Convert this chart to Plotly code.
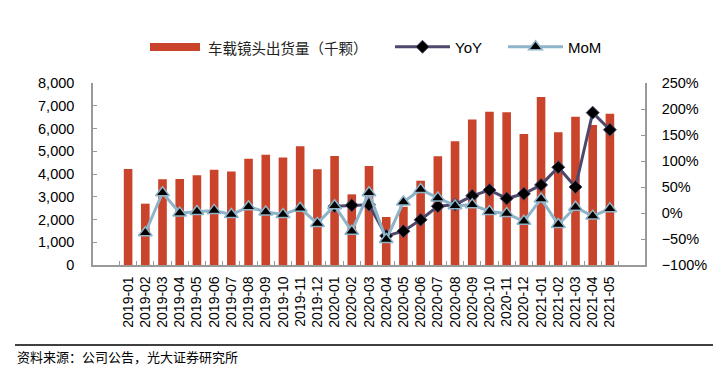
import plotly.graph_objects as go

months = ["2019-01","2019-02","2019-03","2019-04","2019-05","2019-06","2019-07","2019-08","2019-09","2019-10","2019-11","2019-12",
          "2020-01","2020-02","2020-03","2020-04","2020-05","2020-06","2020-07","2020-08","2020-09","2020-10","2020-11","2020-12",
          "2021-01","2021-02","2021-03","2021-04","2021-05"]
shipments = [4220, 2695, 3765, 3780, 3940, 4190, 4115, 4675, 4850, 4720, 5215, 4205,
             4790, 3105, 4350, 2110, 2560, 3705, 4775, 5435, 6400, 6740, 6710, 5760,
             7385, 5830, 6520, 6155, 6650]
yoy = [None]*12 + [13, 15, 16, -44, -35, -13, 13, 16, 33, 44, 28, 37,
                   54, 88, 50, 193, 160]
mom = [None, -38, 39, 0, 3, 5, -3, 12, 2, -3, 9, -20,
       14, -35, 39, -51, 21, 45, 29, 14, 16, 3, -1, -16,
       27, -22, 11, -6, 8]
bar_name = "车载镜头出货量（千颗）"

bar_color = "#C9442A"
yoy_color = "#4E486D"
mom_color = "#8DB4C8"
font_main = "Arial, 'Liberation Sans', sans-serif"
font_cjk = "'Noto Sans CJK SC', sans-serif"

W, H = 725, 367
L, R, T, B = 93, 80, 83, 102
LEG_Y = 1 - 47 / H

fig = go.Figure()
fig.add_trace(go.Bar(x=months, y=shipments, name=bar_name, showlegend=False,
                     marker=dict(color=bar_color, line=dict(width=0)), yaxis="y"))
fig.add_trace(go.Scatter(x=months, y=yoy, name="YoY", mode="lines+markers", yaxis="y2",
                         legend="legend2",
                         line=dict(color=yoy_color, width=3),
                         marker=dict(symbol="diamond", size=10, color="black",
                                     line=dict(color=yoy_color, width=1))))
fig.add_trace(go.Scatter(x=months, y=mom, name="MoM", mode="lines+markers", yaxis="y2",
                         legend="legend3",
                         line=dict(color=mom_color, width=3),
                         marker=dict(symbol="triangle-up", size=12, color="black",
                                     line=dict(color=mom_color, width=1.5))))

leg_common = dict(orientation="h", xanchor="left", xref="container", yref="container",
                  y=LEG_Y, yanchor="middle", itemwidth=55, bgcolor="rgba(0,0,0,0)",
                  font=dict(family=font_main, size=15, color="black"))

fig.update_layout(
    width=W, height=H,
    margin=dict(l=L, r=R, t=T, b=B, autoexpand=False),
    paper_bgcolor="white", plot_bgcolor="white",
    bargap=0.5,
    font=dict(family=font_main, size=14, color="black"),
    showlegend=True,
    legend2=dict(leg_common, x=390 / W),
    legend3=dict(leg_common, x=503 / W),
    xaxis=dict(type="category", tickangle=-90, tickfont=dict(size=14, family=font_main),
               showline=True, linecolor="#999999", linewidth=1.5, automargin=False,
               ticks="inside", ticklen=4, tickcolor="#999999", tickson="boundaries",
               showgrid=False, ticklabelstandoff=4),
    yaxis=dict(range=[0, 8000], dtick=1000, tickformat=",d", showgrid=False,
               showline=True, linecolor="#999999", linewidth=1.5, automargin=False,
               ticks="inside", ticklen=4, tickcolor="#999999", zeroline=False,
               tickfont=dict(size=14.5, family=font_main), ticklabelstandoff=14),
    yaxis2=dict(range=[-100, 250], dtick=50, ticksuffix="%", overlaying="y", side="right",
                showgrid=False, showline=True, linecolor="#999999", linewidth=1.5,
                automargin=False, ticks="inside", ticklen=4, tickcolor="#999999",
                zeroline=False, tickfont=dict(size=14.5, family=font_main),
                ticklabelstandoff=12),
)

# legend entry for the bars (wide patch + label, like the original)
fig.add_shape(type="rect", xref="paper", yref="paper",
              x0=(150 - L) / (W - L - R), x1=(200 - L) / (W - L - R),
              y0=1 + (T - 51) / (H - T - B), y1=1 + (T - 43) / (H - T - B),
              fillcolor=bar_color, line=dict(width=0))
fig.add_annotation(text=bar_name, xref="paper", yref="paper",
                   x=(206 - L) / (W - L - R), y=1 + (T - 47) / (H - T - B),
                   xanchor="left", yanchor="middle", showarrow=False,
                   font=dict(family=font_cjk, size=14.5, color="#222222"))

fig.add_shape(type="line", xref="paper", yref="paper",
              x0=(15 - L) / (W - L - R), x1=(713 - L) / (W - L - R),
              y0=-(345 - (H - B)) / (H - T - B), y1=-(345 - (H - B)) / (H - T - B),
              line=dict(color="black", width=1.5))
fig.add_annotation(text="资料来源：公司公告，光大证券研究所", xref="paper", yref="paper",
                   x=(15 - L) / (W - L - R), y=-(356 - (H - B)) / (H - T - B),
                   xanchor="left", yanchor="middle", showarrow=False,
                   font=dict(family=font_cjk, size=13, color="black"))

fig.write_html("out.html", config={"displayModeBar": False},
               post_script="document.body.style.margin='0';document.body.style.overflow='hidden';")
